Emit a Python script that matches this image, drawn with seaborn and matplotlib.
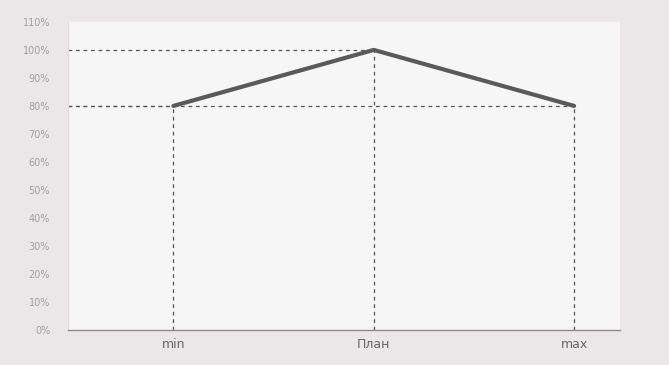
import matplotlib
matplotlib.use("Agg")
import matplotlib.pyplot as plt
import seaborn as sns
import pandas as pd
from matplotlib.ticker import PercentFormatter

# chart values
categories = ["min", "План", "max"]
values = [80, 100, 80]

df = pd.DataFrame({"point": categories, "value": values})

sns.set_style("white")
plt.rcParams["font.family"] = ["DejaVu Sans"]

fig = plt.figure(figsize=(6.69, 3.65), dpi=100, facecolor="#ebe7e9")
ax = fig.add_axes([0.102, 0.096, 0.825, 0.844])
ax.set_facecolor("#f7f6f6")

x_pos = list(range(len(categories)))
ax.set_xlim(-0.525, 2.23)
ax.set_ylim(0, 110)

# dashed guide lines from each point to the axes
for x, v in zip(x_pos, values):
    ax.vlines(x, 0, v, colors="#555555", linestyles=(0, (3, 3)), linewidth=0.9)
    ax.hlines(v, -0.525, x, colors="#555555", linestyles=(0, (3, 3)), linewidth=0.9)

sns.lineplot(x=x_pos, y=df["value"], ax=ax, color="#5a5a5a", linewidth=3)

ax.set_xticks(x_pos)
ax.set_xticklabels(categories, fontsize=9, color="#666666")
ax.set_yticks(range(0, 111, 10))
ax.yaxis.set_major_formatter(PercentFormatter(decimals=0))
ax.tick_params(axis="y", labelsize=7, colors="#a0a0a0", length=0, pad=13)
ax.tick_params(axis="x", length=0, pad=6)
ax.set_xlabel("")
ax.set_ylabel("")

for side in ["top", "right"]:
    ax.spines[side].set_visible(False)
ax.spines["left"].set_color("#dcdcdc")
ax.spines["left"].set_linewidth(0.8)
ax.spines["bottom"].set_color("#8a8a8a")
ax.spines["bottom"].set_linewidth(1)

fig.savefig("out.png", dpi=100, facecolor=fig.get_facecolor())
